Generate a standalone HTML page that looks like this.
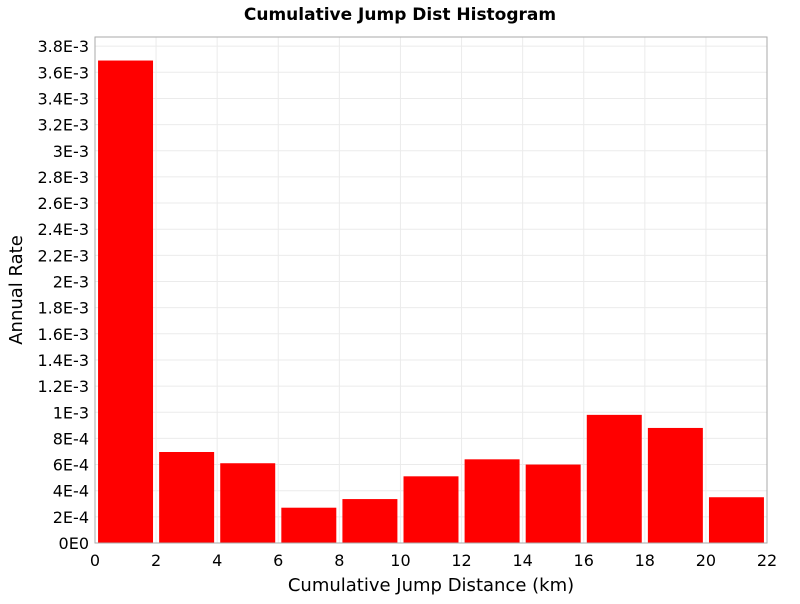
<!DOCTYPE html>
<html><head><meta charset="utf-8"><style>
body{margin:0;background:#fff;font-family:"DejaVu Sans","Liberation Sans",sans-serif}
</style></head><body>
<svg id="chart" width="800" height="600" xmlns="http://www.w3.org/2000/svg">
<text x="400" y="20" text-anchor="middle" font-size="17" font-weight="bold">Cumulative Jump Dist Histogram</text>
<g id="grid"></g>
<g id="bars"></g>
<rect x="95" y="37" width="672" height="506" fill="none" stroke="#aaa"/>
<g id="yt"></g>
<g id="xt"></g>
<text x="431" y="591" text-anchor="middle" font-size="18">Cumulative Jump Distance (km)</text>
<text transform="translate(22,290) rotate(-90)" text-anchor="middle" font-size="18">Annual Rate</text>
</svg>
<script>
const binCenters=[1,3,5,7,9,11,13,15,17,19,21];
const rates=[3.69e-3,6.96e-4,6.1e-4,2.7e-4,3.36e-4,5.1e-4,6.4e-4,6.0e-4,9.8e-4,8.8e-4,3.5e-4];
const yTicks=[0,2e-4,4e-4,6e-4,8e-4,1e-3,1.2e-3,1.4e-3,1.6e-3,1.8e-3,2e-3,2.2e-3,2.4e-3,2.6e-3,2.8e-3,3e-3,3.2e-3,3.4e-3,3.6e-3,3.8e-3];
const yTickLabels=["0E0","2E-4","4E-4","6E-4","8E-4","1E-3","1.2E-3","1.4E-3","1.6E-3","1.8E-3","2E-3","2.2E-3","2.4E-3","2.6E-3","2.8E-3","3E-3","3.2E-3","3.4E-3","3.6E-3","3.8E-3"];
const xTicks=[0,2,4,6,8,10,12,14,16,18,20,22];
const binWidth=1.8;
const L=95,R=767,T=37,B=543,xMax=22,yMax=3.87e-3;
const xs=v=>L+v/xMax*(R-L), ys=v=>B-v/yMax*(B-T);
const NS="http://www.w3.org/2000/svg";
function mk(p,t,a){const e=document.createElementNS(NS,t);for(const k in a)e.setAttribute(k,a[k]);p.appendChild(e);return e;}
const grid=document.getElementById('grid'),bars=document.getElementById('bars'),yt=document.getElementById('yt'),xt=document.getElementById('xt');
yTicks.forEach((v,i)=>{
 const l=mk(grid,'line',{x1:L,x2:R,y1:ys(v),y2:ys(v),stroke:'#ebebeb'});
 
 
 const t=mk(yt,'text',{x:L-6,y:ys(v)+6,'text-anchor':'end','font-size':16});
 t.textContent=yTickLabels[i];
 
 
});
xTicks.forEach(v=>{
 const l=mk(grid,'line',{x1:xs(v),x2:xs(v),y1:T,y2:B,stroke:'#ebebeb'});
 
 
 const t=mk(xt,'text',{x:xs(v),y:B+23,'text-anchor':'middle','font-size':16});
 t.textContent=v;
 
 
});
binCenters.forEach((c,i)=>{
 const x0=xs(c-binWidth/2),x1=xs(c+binWidth/2);
 const r=mk(bars,'rect',{x:x0,y:ys(rates[i]),width:x1-x0,height:B-ys(rates[i]),fill:'#ff0000'});
 
 
});
</script>
</body></html>
